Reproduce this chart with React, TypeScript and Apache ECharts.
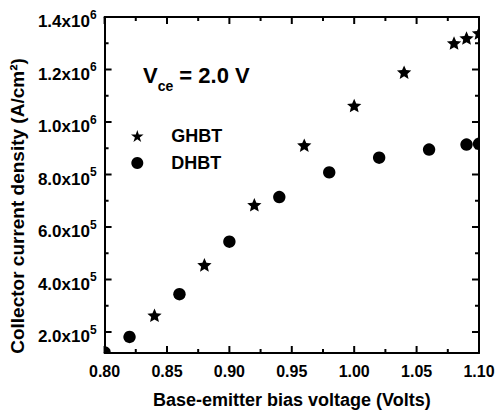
import React, { useEffect, useRef } from 'react';
import * as echarts from 'echarts';

const ghbtVoltage = [0.84, 0.88, 0.92, 0.96, 1.0, 1.04, 1.08, 1.09, 1.1];
const ghbtCurrent = [2.61e5, 4.53e5, 6.82e5, 9.09e5, 1.06e6, 1.187e6, 1.298e6, 1.317e6, 1.336e6];
const dhbtVoltage = [0.8, 0.82, 0.86, 0.9, 0.94, 0.98, 1.02, 1.06, 1.09, 1.1];
const dhbtCurrent = [1.22e5, 1.81e5, 3.44e5, 5.44e5, 7.14e5, 8.08e5, 8.64e5, 8.95e5, 9.14e5, 9.17e5];
const xMajorTicks = [0.8, 0.85, 0.9, 0.95, 1.0, 1.05, 1.1];
const xMinorTicks = [0.825, 0.875, 0.925, 0.975, 1.025, 1.075];
const yMajorTicks = [2e5, 4e5, 6e5, 8e5, 1e6, 1.2e6, 1.4e6];
const yMinorTicks = [3e5, 5e5, 7e5, 9e5, 1.1e6, 1.3e6];
const seriesNames = ['GHBT', 'DHBT'];
const xTitle = 'Base-emitter bias voltage (Volts)';
const yTitle = 'Collector current density (A/cm²)';

const FONT = '"Liberation Sans", Arial, sans-serif';
const STAR_PATH =
  'path://M0,-1L0.2245,-0.309L0.9511,-0.309L0.3633,0.118L0.5878,0.809L0,0.382L-0.5878,0.809L-0.3633,0.118L-0.9511,-0.309L-0.2245,-0.309Z';

const yFmt = (v: number) => {
  const e = Math.floor(Math.log10(v) + 1e-9);
  const m = v / Math.pow(10, e);
  return `{m|${m.toFixed(1)}x10}{e|${e}}`;
};

const starPoints = (cx: number, cy: number, R: number) => {
  const r = R * 0.46;
  const pts: number[][] = [];
  for (let i = 0; i < 10; i++) {
    const a = (-90 + i * 36) * (Math.PI / 180);
    const rr = i % 2 === 0 ? R : r;
    pts.push([cx + rr * Math.cos(a), cy + rr * Math.sin(a)]);
  }
  return pts;
};

export default function App() {
  const ref = useRef<HTMLDivElement>(null);
  useEffect(() => {
    document.body.style.margin = '0';
    const chart = echarts.init(ref.current!, null, { renderer: 'svg' });
    const xMin = 0.8, xMax = 1.1, yMin = 1.2e5, yMax = 1.4e6;
    const lineStyle = { color: '#000', width: 2 };
    const TW = 2;

    const xTickSeries = (ticks: number[], len: number) => ({
      type: 'custom',
      silent: true,
      clip: false,
      z: 5,
      encode: { x: 0, y: 1 },
      data: ticks.map((v) => [v, yMin]),
      renderItem: (params: any, api: any) => {
        const x = api.coord([api.value(0), yMin])[0];
        const bottom = api.coord([xMin, yMin])[1];
        const top = api.coord([xMin, yMax])[1];
        return {
          type: 'group',
          children: [
            { type: 'rect', shape: { x: x - TW / 2, y: bottom - len, width: TW, height: len }, style: { fill: '#000' } },
            { type: 'rect', shape: { x: x - TW / 2, y: top, width: TW, height: len }, style: { fill: '#000' } },
          ],
        };
      },
    });
    const yTickSeries = (ticks: number[], len: number) => ({
      type: 'custom',
      silent: true,
      clip: false,
      z: 5,
      encode: { x: 0, y: 1 },
      data: ticks.map((v) => [xMin, v]),
      renderItem: (params: any, api: any) => {
        const y = api.coord([xMin, api.value(1)])[1];
        const left = api.coord([xMin, yMin])[0];
        const right = api.coord([xMax, yMin])[0];
        return {
          type: 'group',
          children: [
            { type: 'rect', shape: { x: left, y: y - TW / 2, width: len, height: TW }, style: { fill: '#000' } },
            { type: 'rect', shape: { x: right - len, y: y - TW / 2, width: len, height: TW }, style: { fill: '#000' } },
          ],
        };
      },
    });

    const option: any = {
      animation: false,
      grid: { left: 101, right: 19, top: 17, bottom: 62, containLabel: false },
      legend: {
        orient: 'vertical',
        left: 126,
        top: 122,
        itemWidth: 48,
        itemHeight: 12,
        itemGap: 9,
        textStyle: {
          fontFamily: FONT,
          fontWeight: 'bold',
          fontSize: 18,
          color: '#000',
          lineHeight: 18,
          padding: [0, 0, 0, 5],
        },
        data: [
          { name: seriesNames[0], icon: STAR_PATH },
          { name: seriesNames[1], icon: 'circle' },
        ],
      },
      xAxis: [
        {
          type: 'value',
          min: xMin,
          max: xMax,
          position: 'bottom',
          splitLine: { show: false },
          axisLine: { show: true, onZero: false, lineStyle },
          axisTick: { show: false },
          name: xTitle,
          nameLocation: 'middle',
          nameGap: 38,
          nameTextStyle: { fontFamily: FONT, fontWeight: 'bold', fontSize: 18, color: '#000' },
          axisLabel: {
            show: true,
            margin: 10,
            customValues: xMajorTicks,
            formatter: (v: number) => v.toFixed(2),
            fontFamily: FONT,
            fontWeight: 'bold',
            fontSize: 16,
            color: '#000',
          },
        },
        {
          type: 'value',
          min: xMin,
          max: xMax,
          position: 'top',
          splitLine: { show: false },
          axisLine: { show: true, onZero: false, lineStyle },
          axisTick: { show: false },
          axisLabel: { show: false },
        },
      ],
      yAxis: [
        {
          type: 'value',
          min: yMin,
          max: yMax,
          position: 'left',
          splitLine: { show: false },
          axisLine: { show: true, onZero: false, lineStyle },
          axisTick: { show: false },
          name: yTitle,
          nameLocation: 'middle',
          nameGap: 74,
          nameTextStyle: {
            fontFamily: FONT,
            fontWeight: 'bold',
            fontSize: 19,
            color: '#000',
            padding: [0, 42, 0, 0],
          },
          axisLabel: {
            show: true,
            margin: 8,
            customValues: yMajorTicks,
            formatter: yFmt,
            padding: [9, 0, 0, 0],
            rich: {
              m: { fontFamily: FONT, fontWeight: 'bold', fontSize: 17, color: '#000', lineHeight: 26 },
              e: {
                fontFamily: FONT,
                fontWeight: 'bold',
                fontSize: 12,
                color: '#000',
                lineHeight: 12,
                verticalAlign: 'top',
              },
            },
          },
        },
        {
          type: 'value',
          min: yMin,
          max: yMax,
          position: 'right',
          splitLine: { show: false },
          axisLine: { show: true, onZero: false, lineStyle },
          axisTick: { show: false },
          axisLabel: { show: false },
        },
      ],
      graphic: [
        {
          type: 'text',
          left: 143,
          top: 64,
          style: {
            text: '{v|V}{s|ce}{v| = 2.0 V}',
            rich: {
              v: { fontFamily: FONT, fontWeight: 'bold', fontSize: 22, fill: '#000', lineHeight: 36 },
              s: {
                fontFamily: FONT,
                fontWeight: 'bold',
                fontSize: 14,
                fill: '#000',
                lineHeight: 14,
                verticalAlign: 'bottom',
              },
            },
          },
        },
      ],
      series: [
        {
          name: seriesNames[0],
          type: 'custom',
          clip: true,
          itemStyle: { color: '#000' },
          encode: { x: 0, y: 1 },
          data: ghbtVoltage.map((v, i) => [v, ghbtCurrent[i]]),
          renderItem: (params: any, api: any) => {
            const p = api.coord([api.value(0), api.value(1)]);
            return {
              type: 'polygon',
              shape: { points: starPoints(p[0], p[1], 7.5) },
              style: { fill: '#000' },
            };
          },
        },
        {
          name: seriesNames[1],
          type: 'custom',
          clip: true,
          itemStyle: { color: '#000' },
          encode: { x: 0, y: 1 },
          data: dhbtVoltage.map((v, i) => [v, dhbtCurrent[i]]),
          renderItem: (params: any, api: any) => {
            const p = api.coord([api.value(0), api.value(1)]);
            return {
              type: 'circle',
              shape: { cx: p[0], cy: p[1], r: 6.2 },
              style: { fill: '#000' },
            };
          },
        },
        xTickSeries(xMajorTicks, 7),
        xTickSeries(xMinorTicks, 4),
        yTickSeries(yMajorTicks, 7),
        yTickSeries(yMinorTicks, 4),
      ],
    };
    chart.setOption(option);
    return () => chart.dispose();
  }, []);
  return <div ref={ref} style={{ width: 498, height: 415 }} />;
}
